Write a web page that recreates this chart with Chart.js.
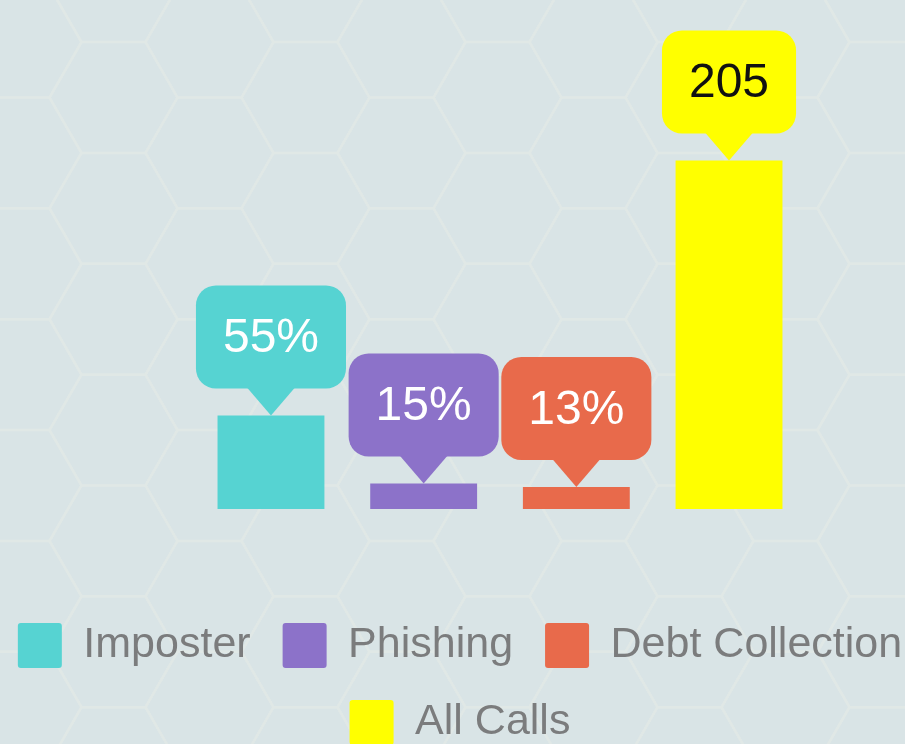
<!DOCTYPE html>
<html>
<head>
<meta charset="utf-8">
<title>Calls by type</title>
<script src="https://cdn.jsdelivr.net/npm/chart.js@4.4.1/dist/chart.umd.min.js"></script>
<style>
  html, body { margin: 0; padding: 0; width: 905px; height: 744px; overflow: hidden; background: #d9e4e6; }
  /* the source picture is a crop of a wider, taller chart */
  #wrap { position: absolute; left: -20px; top: 0; width: 960px; height: 755px; }
</style>
</head>
<body>
<div id="wrap"><canvas id="callsChart" width="960" height="755"></canvas></div>
<script>
  /* ─── Data ─── */
  const categories = ['Imposter', 'Phishing', 'Debt Collection', 'All Calls'];
  const values = [55, 15, 13, 205];
  const valueLabels = ['55%', '15%', '13%', '205'];
  const colors = ['#56d3d2', '#8c72c9', '#e86a4b', '#ffff00'];
  const labelColors = ['#ffffff', '#ffffff', '#ffffff', '#111111'];

  const FONT = "'Liberation Sans', Arial, sans-serif";

  /* ─── Hexagon backdrop ─── */
  const hexBackground = {
    id: 'hexBackground',
    beforeDraw(chart) {
      const { ctx, width, height } = chart;
      ctx.save();
      ctx.fillStyle = '#d9e4e6';
      ctx.fillRect(0, 0, width, height);
      ctx.strokeStyle = '#e0e8e6';
      ctx.lineWidth = 2.5;
      const s = 64, dx = 96, dy = s * Math.sqrt(3);
      for (let c = -2; c < 12; c++) {
        const cx = 133.5 + c * dx;
        const off = (Math.abs(c) % 2) * dy / 2;
        for (let r = -2; r < 9; r++) {
          const cy = 97.5 + r * dy + off;
          ctx.beginPath();
          for (let k = 0; k < 6; k++) {
            const a = k * Math.PI / 3;
            ctx.lineTo(cx + s * Math.cos(a), cy + s * Math.sin(a));
          }
          ctx.closePath();
          ctx.stroke();
        }
      }
      ctx.restore();
    }
  };

  /* ─── Speech-bubble value labels ─── */
  const bubbleLabels = {
    id: 'bubbleLabels',
    afterDatasetsDraw(chart) {
      const ctx = chart.ctx;
      ctx.save();
      ctx.font = '48px ' + FONT;
      ctx.textAlign = 'center';
      ctx.textBaseline = 'middle';
      chart.data.datasets.forEach(function (ds, i) {
        const bar = chart.getDatasetMeta(i).data[0];
        if (!bar) return;
        const text = valueLabels[i];
        const w = ctx.measureText(text).width + 54;
        const h = 103;
        const bottom = bar.y - 27;
        const top = bottom - h;
        ctx.fillStyle = ds.backgroundColor;
        ctx.beginPath();
        ctx.roundRect(bar.x - w / 2, top, w, h, 20);
        ctx.fill();
        ctx.beginPath();
        ctx.moveTo(bar.x - 24, bottom - 1);
        ctx.lineTo(bar.x + 24, bottom - 1);
        ctx.lineTo(bar.x, bar.y);
        ctx.closePath();
        ctx.fill();
        ctx.fillStyle = labelColors[i];
        ctx.fillText(text, bar.x, top + h / 2 + 2);
      });
      ctx.restore();
    }
  };

  new Chart(document.getElementById('callsChart'), {
    type: 'bar',
    data: {
      labels: [''],
      datasets: categories.map(function (name, i) {
        return {
          label: name,
          data: [values[i]],
          backgroundColor: colors[i],
          borderWidth: 0,
          categoryPercentage: 0.694,
          barPercentage: 0.70
        };
      })
    },
    options: {
      responsive: false,
      animation: false,
      layout: { padding: { top: 84 } },
      plugins: {
        tooltip: { enabled: false },
        legend: {
          position: 'bottom',
          labels: {
            boxWidth: 44,
            boxHeight: 45,
            padding: 32,
            useBorderRadius: true,
            borderRadius: 3,
            color: '#7b7c7d',
            font: { size: 43, family: FONT }
          }
        }
      },
      scales: {
        x: {
          grid: { display: false },
          border: { display: false },
          ticks: { display: false },
          afterFit: function (scale) { scale.height = 82; }
        },
        y: {
          min: 0,
          max: 250,
          grid: { display: false },
          border: { display: false },
          ticks: { display: false },
          afterFit: function (scale) { scale.width = 80; }
        }
      }
    },
    plugins: [hexBackground, bubbleLabels]
  });
</script>
</body>
</html>
